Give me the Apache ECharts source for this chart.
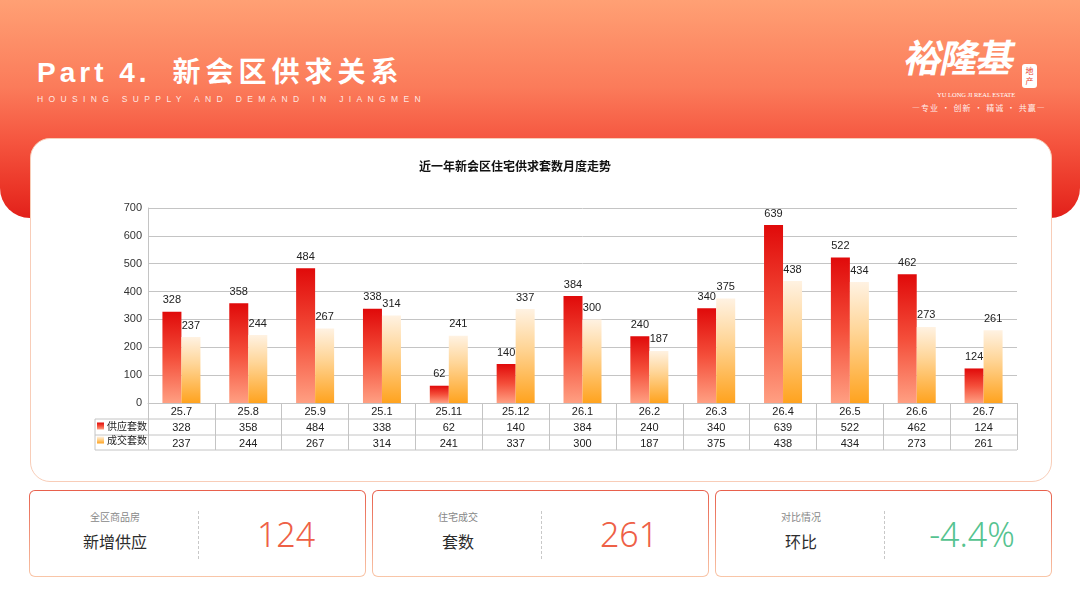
<!DOCTYPE html>
<html lang="zh">
<head>
    <meta charset="utf-8"/>
    <title>新会区供求关系</title>
    <script src="https://cdn.jsdelivr.net/npm/echarts@6/dist/echarts.min.js"></script>
    <style>
        html, body { margin: 0; padding: 0; }
        body { width: 1080px; height: 608px; position: relative; overflow: hidden; background: #fff;
               font-family: "Noto Sans CJK SC", "Liberation Sans", sans-serif; }
        .head { position: absolute; left: 0; top: 0; width: 1080px; height: 218px; border-radius: 0 0 30px 30px;
                background: linear-gradient(180deg, #ffa074 0%, #fb7b5a 40%, #f5553f 65%, #ea3326 88%, #e2201a 100%); }
        .h-title { position: absolute; left: 37px; top: 50px; color: #fff; font-size: 28px; font-weight: bold;
                   letter-spacing: 4px; white-space: nowrap; font-family: "Liberation Sans", "Noto Sans CJK SC", sans-serif; }
        .h-title span { font-family: "Noto Sans CJK SC", sans-serif; margin-left: 22px; letter-spacing: 5px; }
        .h-sub { position: absolute; left: 37px; top: 94px; color: rgba(255,255,255,0.85); font-size: 8.5px;
                 letter-spacing: 5.35px; white-space: nowrap; font-family: "Liberation Sans", sans-serif; }
        .logo { position: absolute; left: 900px; top: 28px; width: 150px; color: #fff; }
        .logo .big { position: absolute; left: 6px; top: 0; font-size: 38px; font-weight: bold; letter-spacing: -2px;
                     transform: skewX(-12deg); font-family: "Noto Sans CJK SC", sans-serif; }
        .logo .tag { position: absolute; left: 122px; top: 36px; width: 15px; font-size: 8px; line-height: 10px;
                     background: #fff; color: #e8452f; border-radius: 3px; text-align: center; padding: 2px 0; }
        .logo .en { position: absolute; left: 37px; top: 63px; font-size: 6.5px; font-family: "Liberation Serif", serif;
                    white-space: nowrap; }
        .logo .cn { position: absolute; left: 12px; top: 74px; font-size: 8px; white-space: nowrap; letter-spacing: 1px;
                    color: rgba(255,255,255,0.9); }
        .card { position: absolute; left: 30px; top: 138px; width: 1020px; height: 342px; background: #fff;
                border: 1px solid #f8cdb8; border-radius: 20px; }
        #chart { position: absolute; left: 30px; top: 138px; width: 1022px; height: 344px; }
        .box { position: absolute; top: 490px; width: 335px; height: 85px; border: 1px solid transparent; border-radius: 6px;
               background: linear-gradient(#fff, #fff) padding-box, linear-gradient(180deg, #e8604c, #f9c6a8) border-box; }
        .box .sm { position: absolute; left: 0; width: 170px; top: 18px; text-align: center; font-size: 10px; color: #888; }
        .box .lg { position: absolute; left: 0; width: 170px; top: 38px; text-align: center; font-size: 16px; color: #2c2c2c; }
        .box .dash { position: absolute; left: 168px; top: 20px; height: 48px; border-left: 1px dashed #c8c8c8; }
        .box .num { position: absolute; left: 170px; width: 172px; top: 23px; text-align: center; font-size: 34px;
                    font-weight: 300; font-family: "Noto Sans", "Liberation Sans", sans-serif; line-height: 40px; }
        .red { color: #ee6046; }
        .green { color: #55c390; }
    </style>
</head>
<body>

<div class="head"></div>
<div class="h-title">Part 4.<span>新会区供求关系</span></div>
<div class="h-sub">HOUSING SUPPLY AND DEMAND IN JIANGMEN</div>
<div class="logo">
    <div class="big">裕隆基</div>
    <div class="tag">地产</div>
    <div class="en">YU LONG JI REAL ESTATE</div>
    <div class="cn">—专业 · 创新 · 精诚 · 共赢—</div>
</div>

<div class="card"></div>
<div id="chart"></div>

<div class="box" style="left:29px;">
    <div class="sm">全区商品房</div>
    <div class="lg">新增供应</div>
    <div class="dash"></div>
    <div class="num red">124</div>
</div>
<div class="box" style="left:372px;">
    <div class="sm">住宅成交</div>
    <div class="lg">套数</div>
    <div class="dash"></div>
    <div class="num red">261</div>
</div>
<div class="box" style="left:715px;">
    <div class="sm">对比情况</div>
    <div class="lg">环比</div>
    <div class="dash"></div>
    <div class="num green">-4.4%</div>
</div>

<script>
    // 月份
    var months = ['25.7', '25.8', '25.9', '25.1', '25.11', '25.12', '26.1', '26.2', '26.3', '26.4', '26.5', '26.6', '26.7'];
    // 供应套数
    var supply = [328, 358, 484, 338, 62, 140, 384, 240, 340, 639, 522, 462, 124];
    // 成交套数
    var deals = [237, 244, 267, 314, 241, 337, 300, 187, 375, 438, 434, 273, 261];
    var yMin = 0, yMax = 700, yStep = 100;

    var lineColor = '#c4c4c4';
    var font = '"Liberation Sans", "Noto Sans CJK SC", sans-serif';

    var myChart = echarts.init(document.getElementById('chart'));
    var options = {
        animation: false,
        title: {
            text: '近一年新会区住宅供求套数月度走势',
            left: 384,
            top: 17,
            textStyle: { fontSize: 12, fontWeight: 'bold', color: '#111', fontFamily: '"Noto Sans CJK SC", sans-serif' }
        },
        legend: {
            orient: 'vertical',
            left: 67,
            top: 283,
            padding: 0,
            itemWidth: 7,
            itemHeight: 7,
            itemGap: 4,
            icon: 'rect',
            textStyle: { fontSize: 10, color: '#222', fontFamily: '"Noto Sans CJK SC", sans-serif', padding: [0, 0, 0, -2] },
            data: ['供应套数', '成交套数']
        },
        grid: { left: 118, right: 35, top: 70, bottom: 79 },
        xAxis: {
            type: 'category',
            data: months,
            axisLine: { lineStyle: { color: lineColor } },
            axisTick: { show: true, interval: 0, length: 47, lineStyle: { color: lineColor } },
            axisLabel: {
                interval: 0,
                margin: 1,
                fontSize: 11,
                lineHeight: 16,
                color: '#222',
                fontFamily: font,
                formatter: function (v, i) {
                    return v + '\n' + supply[i] + '\n' + deals[i];
                }
            }
        },
        yAxis: {
            type: 'value',
            min: yMin,
            max: yMax,
            interval: yStep,
            axisLine: { show: true, lineStyle: { color: lineColor } },
            axisTick: { show: false },
            axisLabel: { fontSize: 11, color: '#333', margin: 6, fontFamily: font },
            splitLine: { lineStyle: { color: lineColor } }
        },
        // 表格边框
        graphic: [
            { type: 'line', shape: { x1: 65, y1: 281, x2: 987, y2: 281 }, style: { stroke: lineColor } },
            { type: 'line', shape: { x1: 65, y1: 297, x2: 987, y2: 297 }, style: { stroke: lineColor } },
            { type: 'line', shape: { x1: 65, y1: 312, x2: 987, y2: 312 }, style: { stroke: lineColor } },
            { type: 'line', shape: { x1: 65, y1: 281, x2: 65, y2: 312 }, style: { stroke: lineColor } }
        ],
        series: [{
            name: '供应套数',
            type: 'bar',
            data: supply,
            barWidth: 19,
            barGap: '0%',
            itemStyle: {
                color: new echarts.graphic.LinearGradient(0, 0, 0, 1, [
                    { offset: 0, color: '#e00a0a' },
                    { offset: 0.5, color: '#f44e3a' },
                    { offset: 1, color: '#ff9f82' }
                ])
            },
            label: { show: true, position: 'top', distance: 6, fontSize: 11, color: '#222', fontFamily: font }
        }, {
            name: '成交套数',
            type: 'bar',
            data: deals,
            barWidth: 19,
            itemStyle: {
                color: new echarts.graphic.LinearGradient(0, 0, 0, 1, [
                    { offset: 0, color: '#fff2e2' },
                    { offset: 0.4, color: '#ffd699' },
                    { offset: 1, color: '#ffa31f' }
                ])
            },
            label: { show: true, position: 'top', distance: 6, fontSize: 11, color: '#222', fontFamily: font }
        }]
    };
    myChart.setOption(options);
</script>

</body>
</html>
